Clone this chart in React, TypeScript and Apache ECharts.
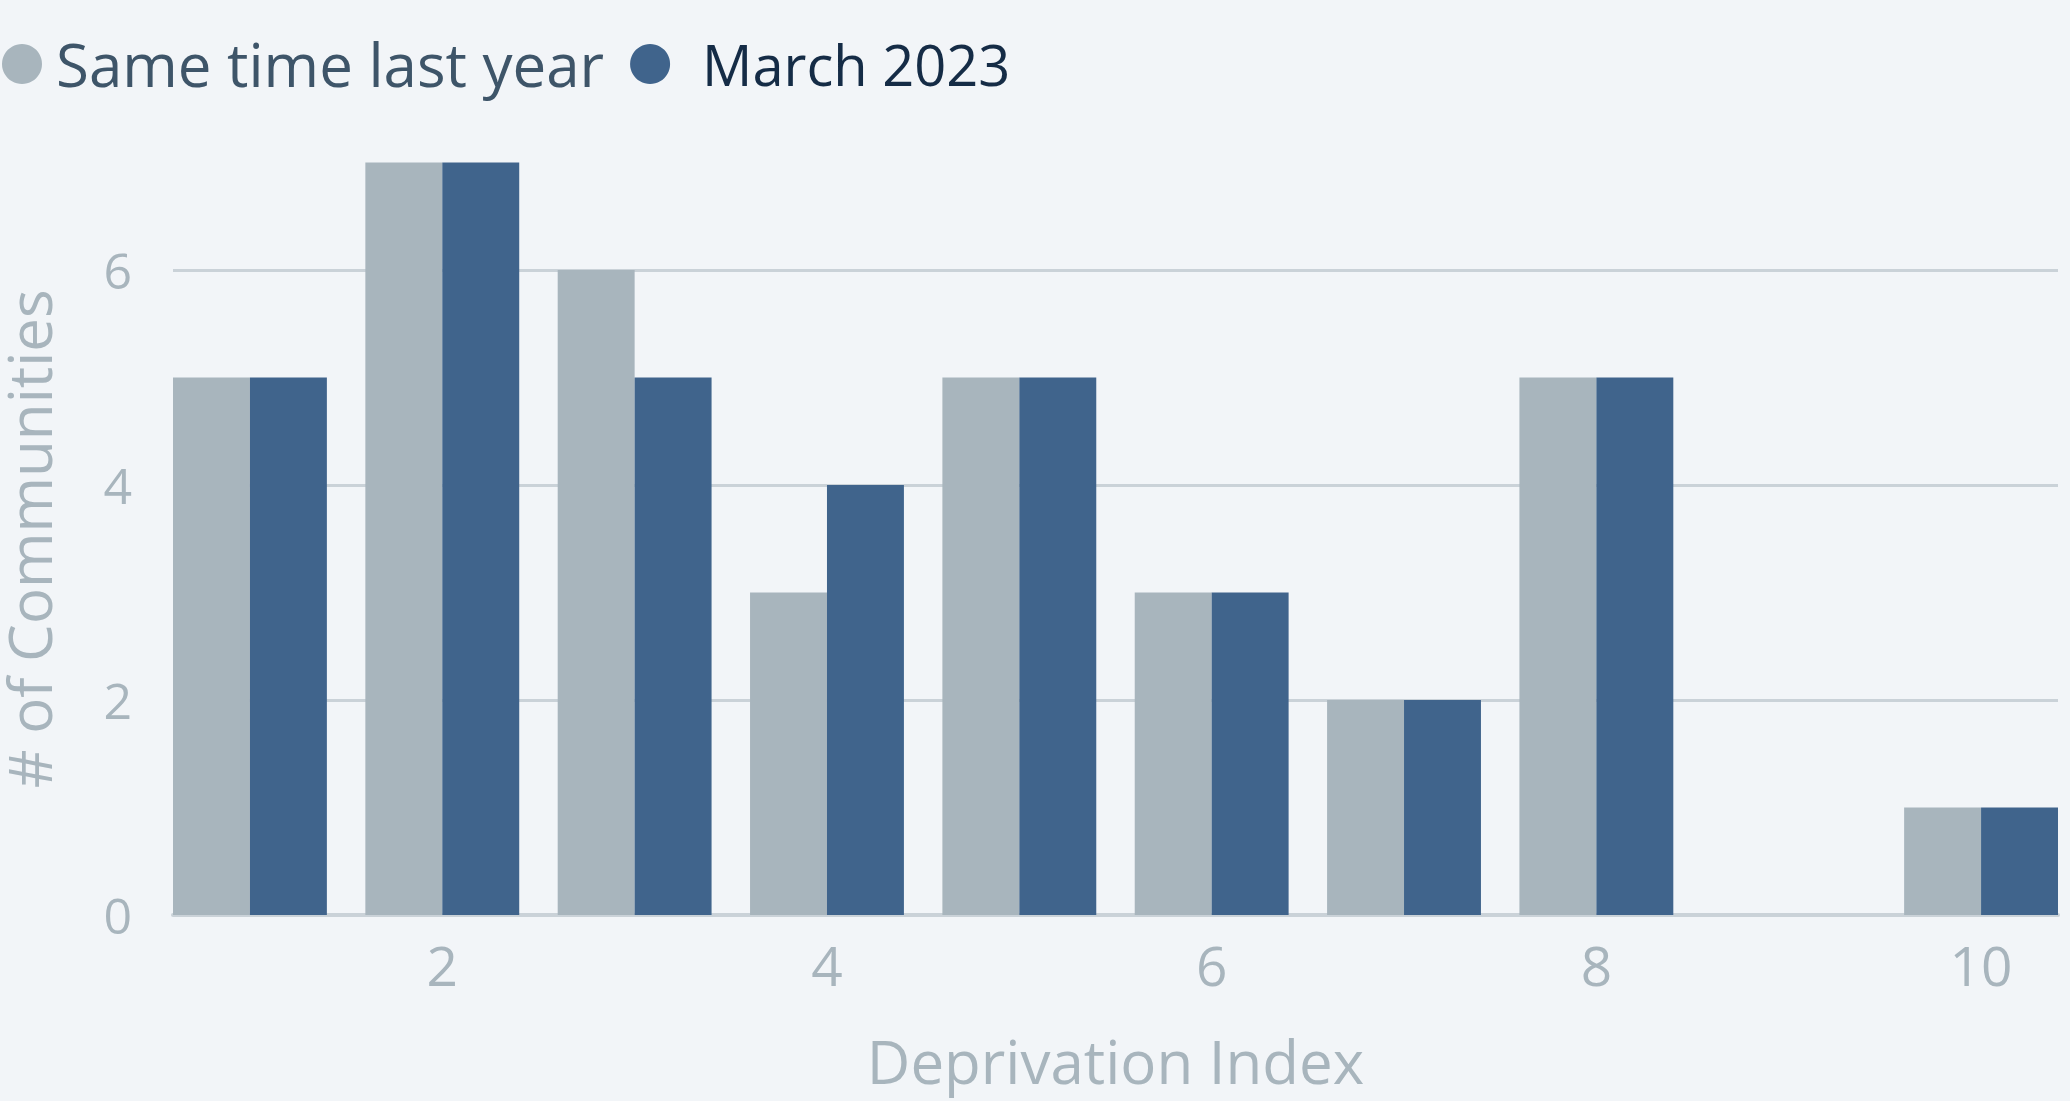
import React, { useEffect, useRef } from "react";
import * as echarts from "echarts";

const categories: number[] = [1, 2, 3, 4, 5, 6, 7, 8, 9, 10];
const sameTimeLastYear: number[] = [5, 7, 6, 3, 5, 3, 2, 5, 0, 1];
const march2023: number[] = [5, 7, 5, 4, 5, 3, 2, 5, 0, 1];
const xTickLabels: number[] = [2, 4, 6, 8, 10];
const seriesNames: string[] = ["Same time last year", "March 2023"];

const W = 2070;
const H = 1101;
const FONT = "'Open Sans', 'Noto Sans', sans-serif";
const GRID = { left: 173, right: 12, top: 162.5, bottom: 186 };
const HALF_GROUP = 0.4; // half of a bar group, in category units
const plotW = W - GRID.left - GRID.right;
const step = plotW / (categories.length - 1 + 2 * HALF_GROUP);
const barW = step * HALF_GROUP;

const GREY = "#a8b5bd";
const BLUE = "#40648c";
const LABEL = "#a8b5bd";
const GRIDLINE = "#cad2d8";

export default function App() {
  const ref = useRef<HTMLDivElement>(null);
  useEffect(() => {
    document.body.style.margin = "0";
    document.body.style.background = "#f2f5f8";
    const chart = echarts.init(ref.current!, undefined, { renderer: "svg" });
    chart.setOption({
      animation: false,
      backgroundColor: "#f2f5f8",
      textStyle: { fontFamily: FONT },
      legend: {
        left: 2,
        top: 34,
        padding: 0,
        icon: "circle",
        itemWidth: 40,
        itemHeight: 40,
        itemGap: 26,
        textStyle: { fontSize: 58, fontFamily: FONT, padding: [0, 0, 0, 9] },
        data: [
          { name: seriesNames[0], textStyle: { color: "#3e5569", fontSize: 60 } },
          { name: seriesNames[1], textStyle: { color: "#152c46", fontSize: 56, padding: [0, 0, 0, 27] } },
        ],
      },
      grid: { ...GRID, containLabel: false, outerBoundsMode: "none" },
      xAxis: {
        type: "value",
        min: categories[0] - HALF_GROUP,
        max: categories[categories.length - 1] + HALF_GROUP,
        name: "Deprivation Index",
        nameLocation: "middle",
        nameGap: 116,
        nameTextStyle: { fontSize: 60, color: LABEL, fontFamily: FONT },
        axisLine: { show: true, onZero: true, lineStyle: { color: GRIDLINE, width: 4 } },
        axisTick: { show: false },
        splitLine: { show: false },
        axisLabel: {
          customValues: xTickLabels,
          fontSize: 55,
          color: LABEL,
          margin: 22,
          fontFamily: FONT,
        },
      },
      yAxis: {
        type: "value",
        min: 0,
        max: 7,
        interval: 2,
        name: "# of Communities",
        nameLocation: "middle",
        nameGap: 114,
        nameTextStyle: { fontSize: 60, color: LABEL, fontFamily: FONT },
        axisLine: { show: false },
        axisTick: { show: false },
        splitLine: {
          show: true,
          showMinLine: false,
          showMaxLine: false,
          lineStyle: { color: GRIDLINE, width: 3 },
        },
        axisLabel: {
          showMaxLabel: false,
          fontSize: 50,
          color: LABEL,
          margin: 41,
          fontFamily: FONT,
        },
      },
      series: [
        {
          name: seriesNames[0],
          type: "bar",
          barWidth: barW,
          barGap: "0%",
          itemStyle: { color: GREY },
          data: categories.map((c, i) => [c, sameTimeLastYear[i]]),
        },
        {
          name: seriesNames[1],
          type: "bar",
          barWidth: barW,
          barGap: "0%",
          itemStyle: { color: BLUE },
          data: categories.map((c, i) => [c, march2023[i]]),
        },
      ],
    });
    return () => chart.dispose();
  }, []);
  return <div ref={ref} style={{ width: W, height: H }} />;
}
